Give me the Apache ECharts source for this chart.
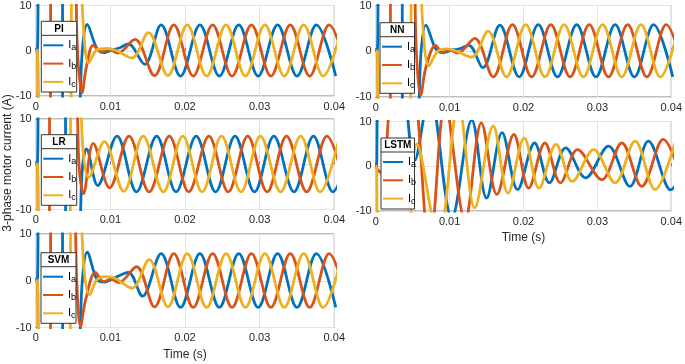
<!DOCTYPE html>
<html>
<head>
<meta charset="utf-8">
<script src="https://cdn.jsdelivr.net/npm/echarts@6.0.0/dist/echarts.min.js"></script>
<style>
  html, body { margin: 0; padding: 0; background: #fff; }
  #chart { width: 685px; height: 364px; }
</style>
</head>
<body>
<div id="chart"></div>
<script>
// tick labels
var xTicks = [0, 0.01, 0.02, 0.03, 0.04];
var yTicks = [-10, 0, 10];
var methods = ['PI', 'NN', 'LR', 'LSTM', 'SVM'];
var phases = ['Ia', 'Ib', 'Ic'];
var phaseColors = ['#0072BD', '#D95319', '#EDB120'];

// [time (s), current (A)] (peaks, troughs, turning points)
var piIa = [[0,0],[0.0002,0],[0.0006,30],[0.0033,30],[0.0039,-30],[0.0053,-30],[0.0062,-1],[0.0069,5.8],[0.0082,0.5],[0.0092,-0.4],[0.0102,0.2],[0.0112,0.6],[0.0124,1.5],[0.0146,-3.0],[0.0168,5.7],[0.0194,-5.6],[0.0220,5.7],[0.0246,-5.6],[0.0272,5.7],[0.0298,-5.6],[0.0324,5.7],[0.0350,-5.6],[0.0376,5.7],[0.0402,-5.6]];
var piIb = [[0,0],[0.0002,0],[0.0006,-30],[0.0017,-30],[0.0023,30],[0.0049,30],[0.0056,0],[0.0062,-9.3],[0.0068,-3.5],[0.0077,1.2],[0.0088,-0.3],[0.0098,0.3],[0.0110,-0.5],[0.0133,2.5],[0.0159,-5.5],[0.0185,5.7],[0.0211,-5.6],[0.0237,5.7],[0.0263,-5.6],[0.0289,5.7],[0.0315,-5.6],[0.0341,5.7],[0.0367,-5.6],[0.0393,5.7],[0.0419,-5.6]];
var piIc = [[0,0],[0.0002,0],[0.0006,-30],[0.0044,-30],[0.0050,30],[0.0056,30],[0.0064,5],[0.0071,-2.7],[0.0082,0.2],[0.0095,0.5],[0.0107,0.1],[0.0129,-1.6],[0.0151,4.0],[0.0177,-5.5],[0.0203,5.7],[0.0229,-5.6],[0.0255,5.7],[0.0281,-5.6],[0.0307,5.7],[0.0333,-5.6],[0.0359,5.7],[0.0385,-5.6],[0.0411,5.7]];

var nnIa = [[0,0],[0.0002,0],[0.0006,30],[0.0033,30],[0.0039,-30],[0.0053,-30],[0.0061,-1],[0.0068,5.7],[0.0081,0.6],[0.0091,-0.3],[0.0102,0.2],[0.0113,0.5],[0.0126,1.3],[0.0145,-3.6],[0.0168,5.7],[0.0194,-5.6],[0.0220,5.8],[0.0246,-5.6],[0.0272,5.8],[0.0298,-5.6],[0.0324,5.8],[0.0350,-5.6],[0.0376,5.8],[0.0402,-5.6]];
var nnIb = [[0,0],[0.0002,0],[0.0006,-30],[0.0017,-30],[0.0023,30],[0.0048,30],[0.0055,0],[0.0061,-9.6],[0.0068,-3.5],[0.0081,1.3],[0.0090,-0.2],[0.0100,0.3],[0.0111,-0.4],[0.0134,2.8],[0.0159,-5.6],[0.0185,5.8],[0.0211,-5.6],[0.0237,5.8],[0.0263,-5.6],[0.0289,5.8],[0.0315,-5.6],[0.0341,5.8],[0.0367,-5.6],[0.0393,5.8],[0.0419,-5.6]];
var nnIc = [[0,0],[0.0002,0],[0.0006,-30],[0.0044,-30],[0.0050,30],[0.0056,30],[0.0064,5],[0.0072,-3.2],[0.0084,0],[0.0096,0.5],[0.0108,0.1],[0.0130,-1.3],[0.0152,4.4],[0.0177,-5.6],[0.0203,5.8],[0.0229,-5.6],[0.0255,5.8],[0.0281,-5.6],[0.0307,5.8],[0.0333,-5.6],[0.0359,5.8],[0.0385,-5.6],[0.0411,5.8]];

var lrIa = [[0,0],[0.0002,0],[0.0006,30],[0.0037,30],[0.0043,-30],[0.0055,-30],[0.0062,-2],[0.0068,3.4],[0.0083,-4.7],[0.0109,6.2],[0.0135,-6.1],[0.0162,6.2],[0.0188,-6.1],[0.0215,6.2],[0.0241,-6.1],[0.0267,6.2],[0.0293,-6.1],[0.0319,6.2],[0.0346,-6.1],[0.0372,6.2],[0.0398,-6.1],[0.0424,6.2]];
var lrIb = [[0,0],[0.0002,0],[0.0006,-30],[0.0016,-30],[0.0021,30],[0.0050,30],[0.0058,0],[0.0064,-6.5],[0.0077,4.6],[0.0099,-5.2],[0.0125,6.2],[0.0152,-6.1],[0.0179,6.2],[0.0205,-6.1],[0.0232,6.2],[0.0258,-6.1],[0.0284,6.2],[0.0310,-6.1],[0.0336,6.2],[0.0363,-6.1],[0.0390,6.2],[0.0416,-6.1]];
var lrIc = [[0,0],[0.0002,0],[0.0006,-30],[0.0043,-30],[0.0049,30],[0.0056,30],[0.0063,4],[0.0071,-2.9],[0.0092,5.0],[0.0118,-6.0],[0.0144,6.2],[0.0171,-6.1],[0.0197,6.2],[0.0223,-6.1],[0.0249,6.2],[0.0275,-6.1],[0.0301,6.2],[0.0328,-6.1],[0.0355,6.2],[0.0381,-6.1],[0.0407,6.2]];

var lstmIa = [[0,0],[0.0001,0],[0.0004,30],[0.0025,35],[0.0053,1.3],[0.0073,16],[0.0103,-11.5],[0.0130,10.3],[0.0150,-7.1],[0.0171,7.5],[0.0192,-5.2],[0.0215,5.2],[0.0235,-3.7],[0.0257,4.1],[0.0284,-2.6],[0.0315,4.5],[0.0344,-4.5],[0.0369,5.6],[0.0399,-5.3],[0.0425,5.5]];
var lstmIb = [[0,0],[0.0005,-1.2],[0.0010,-1.5],[0.0024,20],[0.0045,22],[0.0073,-18],[0.0094,14],[0.0121,-12],[0.0143,9.7],[0.0164,-6.3],[0.0187,7.1],[0.0207,-4.9],[0.0229,5.2],[0.0250,-3.7],[0.0273,3.7],[0.0306,-3.0],[0.0333,5.2],[0.0360,-4.5],[0.0389,6.0],[0.0418,-5.5]];
var lstmIc = [[0,0],[0.0001,0],[0.0004,-30],[0.0035,-30],[0.0056,5.0],[0.0085,-16],[0.0112,14],[0.0134,-9.3],[0.0159,9.0],[0.0179,-6.0],[0.0201,6.3],[0.0221,-4.9],[0.0244,4.9],[0.0266,-3.4],[0.0295,3.7],[0.0324,-3.7],[0.0351,5.6],[0.0378,-5.2],[0.0405,5.3]];

var svmIa = [[0,0],[0.0002,0],[0.0006,30],[0.0033,30],[0.0039,-30],[0.0053,-30],[0.0062,-1],[0.0069,6.1],[0.0082,0.3],[0.0092,-0.3],[0.0103,0.4],[0.0124,1.8],[0.0143,-3.3],[0.0168,5.8],[0.0194,-5.7],[0.0220,5.8],[0.0246,-5.7],[0.0272,5.8],[0.0298,-5.7],[0.0324,5.8],[0.0350,-5.7],[0.0376,5.8],[0.0402,-5.7]];
var svmIb = [[0,0],[0.0002,0],[0.0006,-30],[0.0017,-30],[0.0023,30],[0.0048,30],[0.0055,0],[0.0060,-9.8],[0.0067,-4],[0.0080,1.8],[0.0091,-0.2],[0.0101,0.4],[0.0111,-0.4],[0.0135,3.0],[0.0159,-5.6],[0.0185,5.8],[0.0211,-5.7],[0.0237,5.8],[0.0263,-5.7],[0.0289,5.8],[0.0315,-5.7],[0.0341,5.8],[0.0367,-5.7],[0.0393,5.8],[0.0419,-5.7]];
var svmIc = [[0,0],[0.0002,0],[0.0006,-30],[0.0043,-30],[0.0049,30],[0.0056,30],[0.0064,4],[0.0072,-3.0],[0.0082,0.2],[0.0093,0.9],[0.0102,0.8],[0.0110,0.2],[0.0129,-1.6],[0.0152,4.5],[0.0177,-5.6],[0.0203,5.8],[0.0229,-5.7],[0.0255,5.8],[0.0281,-5.7],[0.0307,5.8],[0.0333,-5.7],[0.0359,5.8],[0.0385,-5.7],[0.0411,5.8]];

var currents = [
  [piIa, piIb, piIc],
  [nnIa, nnIb, nnIc],
  [lrIa, lrIb, lrIc],
  [lstmIa, lstmIb, lstmIc],
  [svmIa, svmIb, svmIc]
];

// layout in pixels: plot area, legend box, whether the panel carries the time label
var panels = [
  { grid: [35.7, 4.5, 298.6, 91.5], box: [41.3, 21.3, 35.4, 70.7], xName: false },
  { grid: [375.7, 5.5, 297.6, 91.5], box: [380, 22.7, 34.5, 70.6], xName: false },
  { grid: [35.7, 119, 298.6, 90.5], box: [41.3, 134.7, 35.4, 70.6], xName: false },
  { grid: [375.7, 121.5, 297.6, 89.5], box: [381, 138, 33.5, 71], xName: true },
  { grid: [35.7, 234, 298.6, 93.5], box: [41, 252.7, 35, 70.6], xName: true }
];

var FONT = 'Liberation Sans, Arial, Helvetica, sans-serif';
var axisColor = '#262626';

var grids = [], xAxes = [], yAxes = [], series = [], legends = [], graphics = [];

panels.forEach(function (p, i) {
  grids.push({
    left: p.grid[0], top: p.grid[1], width: p.grid[2], height: p.grid[3],
    show: true, borderColor: '#7d7d7d', borderWidth: 1, containLabel: false
  });
  xAxes.push({
    gridIndex: i, type: 'value',
    min: xTicks[0], max: xTicks[xTicks.length - 1], interval: 0.01,
    name: p.xName ? 'Time (s)' : '', nameLocation: 'middle', nameGap: 21,
    nameTextStyle: { fontFamily: FONT, fontSize: 12, color: axisColor },
    axisLine: { show: false },
    axisTick: { show: true, inside: true, length: 3, lineStyle: { color: '#7d7d7d' } },
    axisLabel: { fontFamily: FONT, fontSize: 11, color: axisColor, margin: 5,
      formatter: function (v) { return v === 0 ? '0' : v.toFixed(2); } },
    splitLine: { show: true, lineStyle: { color: '#e2e2e2', width: 1 } }
  });
  yAxes.push({
    gridIndex: i, type: 'value',
    min: yTicks[0], max: yTicks[yTicks.length - 1], interval: 10,
    axisLine: { show: false },
    axisTick: { show: true, inside: true, length: 3, lineStyle: { color: '#7d7d7d' } },
    axisLabel: { fontFamily: FONT, fontSize: 11, color: axisColor, margin: 4 },
    splitLine: { show: true, lineStyle: { color: '#e2e2e2', width: 1 } }
  });
  phases.forEach(function (ph, j) {
    series.push({
      type: 'line', name: ph, xAxisIndex: i, yAxisIndex: i,
      data: currents[i][j],
      symbol: 'none', showSymbol: false,
      smooth: 0.35,
      lineStyle: { width: 2.8, color: phaseColors[j] },
      itemStyle: { color: phaseColors[j] },
      z: 2
    });
  });

  var b = p.box;
  legends.push({
    left: b[0] + 2, top: b[1] + 17,
    orient: 'vertical', padding: 0,
    icon: 'rect',
    itemWidth: 20, itemHeight: 2, itemGap: 4.3,
    selectedMode: false,
    data: phases,
    formatter: function (n) { return 'I{s|' + n.charAt(1) + '}'; },
    textStyle: {
      fontFamily: FONT, fontSize: 11, color: '#000', lineHeight: 14,
      rich: { s: { fontFamily: FONT, fontSize: 9, color: '#000', padding: [8, 0, 0, 0], verticalAlign: 'bottom' } }
    },
    z: 6
  });
  graphics.push({
    type: 'rect', z: 3,
    shape: { x: b[0], y: b[1], width: b[2], height: b[3] },
    style: { fill: '#fff', stroke: '#333', lineWidth: 1 }
  });
  graphics.push({
    type: 'line', z: 4,
    shape: { x1: b[0], y1: b[1] + 14, x2: b[0] + b[2], y2: b[1] + 14 },
    style: { stroke: '#333', lineWidth: 1 }
  });
  graphics.push({
    type: 'text', z: 5,
    x: b[0] + b[2] / 2, y: b[1] + 7.5,
    style: { text: methods[i], fontFamily: FONT, fontSize: 10, fontWeight: 'bold',
      fill: '#000', textAlign: 'center', textVerticalAlign: 'middle' }
  });
});

graphics.push({
  type: 'text', z: 5,
  x: 7.5, y: 163, rotation: Math.PI / 2,
  style: { text: '3-phase motor current (A)', fontFamily: FONT, fontSize: 12,
    fill: axisColor, textAlign: 'center', textVerticalAlign: 'middle' }
});

var chart = echarts.init(document.getElementById('chart'), null, { renderer: 'canvas' });
chart.setOption({
  animation: false,
  backgroundColor: '#fff',
  grid: grids,
  xAxis: xAxes,
  yAxis: yAxes,
  legend: legends,
  graphic: graphics,
  series: series
});
</script>
</body>
</html>
